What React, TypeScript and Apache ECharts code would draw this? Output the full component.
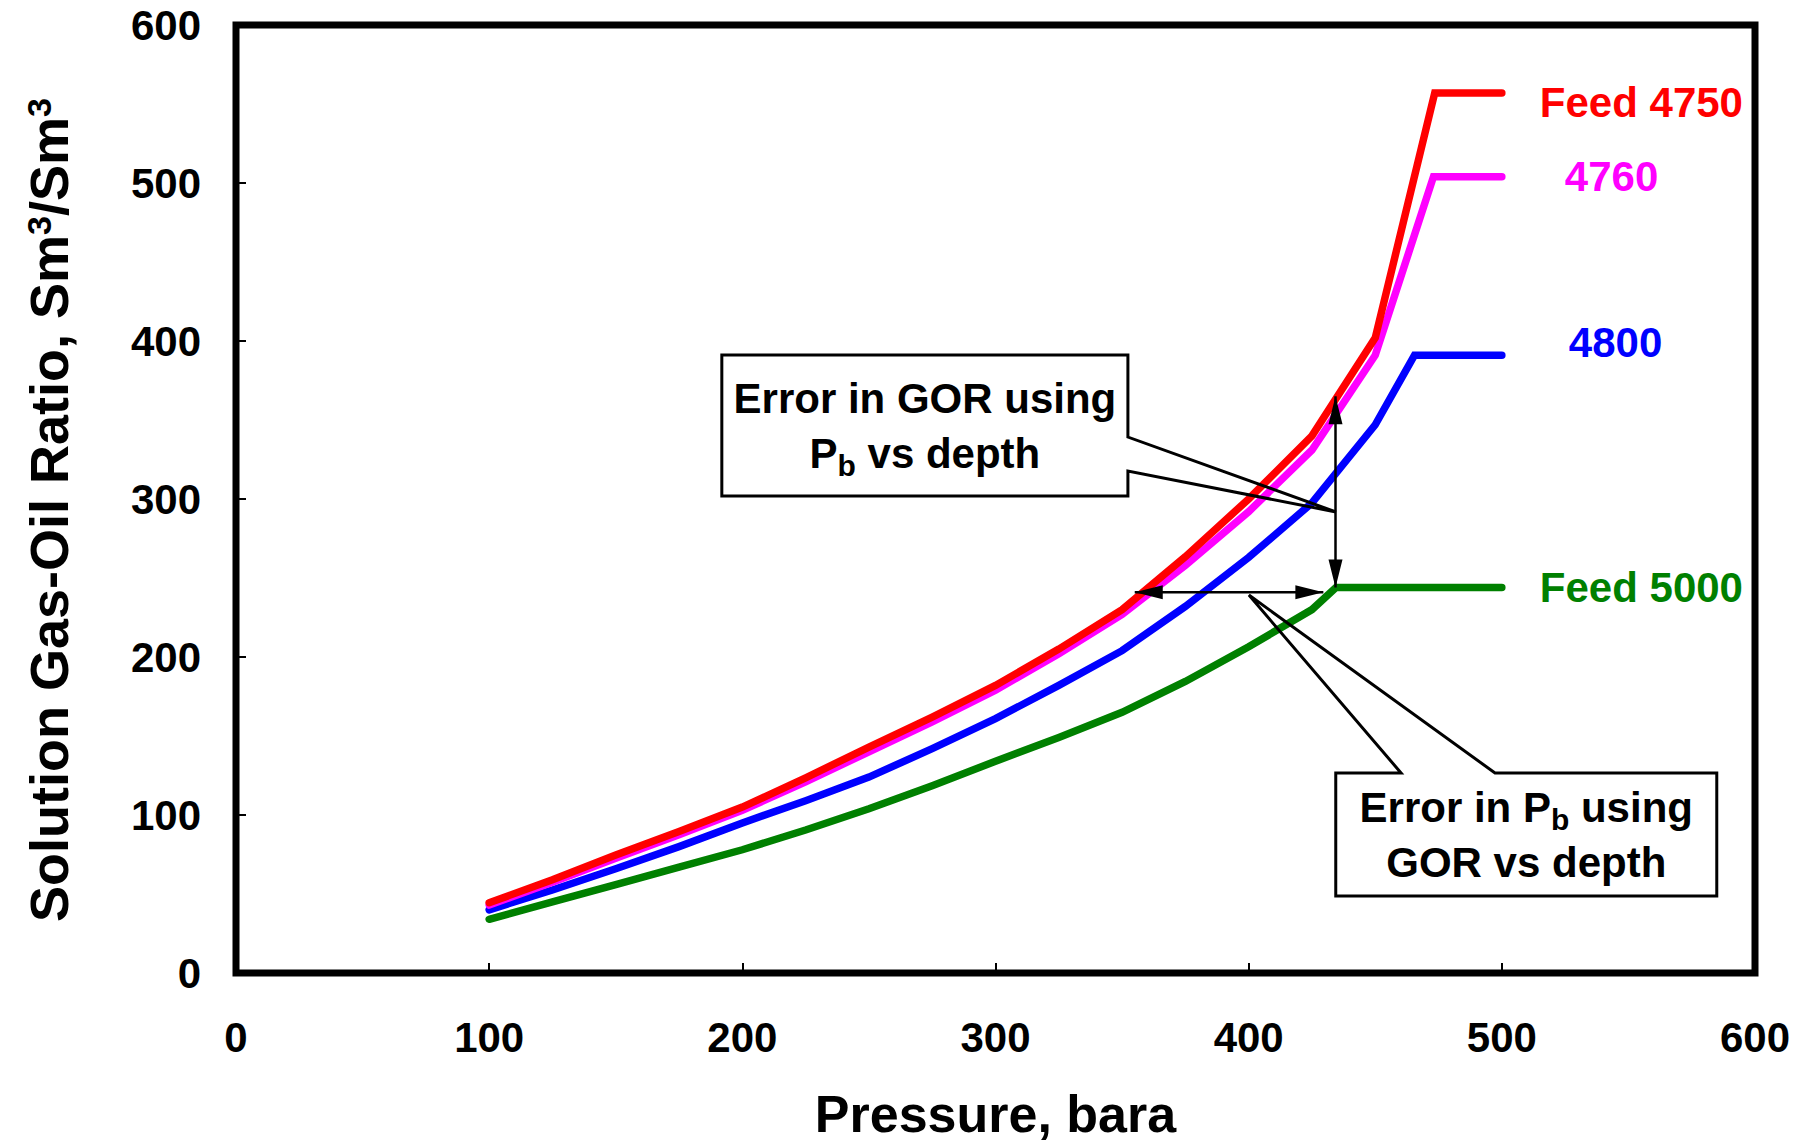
import React, { useEffect, useRef } from "react";
import * as echarts from "echarts";

const FONT = '"Liberation Sans", Arial, Helvetica, sans-serif';

// Axis ticks
const xTickMin = 0;
const xTickMax = 600;
const xTickStep = 100;
const yTickMin = 0;
const yTickMax = 600;
const yTickStep = 100;

// Pressure (bara) grid of the depletion curves
const pressureSteps = [100, 125, 150, 175, 200, 225, 250, 275, 300, 325, 350, 375, 400, 425, 450];

// Feed 4750
const feed4750Pressure = [...pressureSteps, 473.5, 500];
const feed4750Gor = [44.5, 59, 74.7, 89.5, 105, 123.5, 143, 162, 182, 205, 230, 263.5, 300, 340, 402, 557, 557];

// 4760
const feed4760Pressure = [...pressureSteps, 473, 500];
const feed4760Gor = [43, 57.5, 72.6, 87.5, 103, 121, 140, 159, 179, 202, 227, 258, 292, 331, 391, 504, 504];

// 4800
const feed4800Pressure = [...pressureSteps, 465.5, 500];
const feed4800Gor = [40, 52.5, 66, 80, 95, 109, 124, 142, 161, 182, 204, 232, 263, 297.5, 347, 391, 391];

// Feed 5000
const feed5000Pressure = [100, 125, 150, 175, 200, 225, 250, 275, 300, 325, 350, 375, 400, 425, 434.5, 500];
const feed5000Gor = [34, 45, 56, 67, 78, 90.5, 104, 118.5, 134, 149, 165, 184.5, 206.5, 230, 244, 244];

const seriesNames = ["Feed 4750", "4760", "4800", "Feed 5000"];
const seriesColors = ["#FF0000", "#FF00FF", "#0000FF", "#008000"];
const seriesPressure = [feed4750Pressure, feed4760Pressure, feed4800Pressure, feed5000Pressure];
const seriesGor = [feed4750Gor, feed4760Gor, feed4800Gor, feed5000Gor];

// Annotation arrows (data coordinates: pressure, GOR)
const gorErrorArrow = [
  [434.3, 244],
  [434.3, 365],
];
const pbErrorArrow = [
  [355, 241],
  [429.5, 241],
];

// Callout texts
const calloutTexts = ["Error in GOR using\nP{s|b} vs depth", "Error in P{s|b} using\nGOR vs depth"];

// ---- layout (not data) ----
const labelOffsets = [
  [38, 10],
  [63, 0],
  [67, -13],
  [38, 0],
];
// callout geometry in axis units: box [x1, yTop, x2, yBottom]
const calloutLayout = [
  { box: [191.9, 391.1, 352.3, 301.9], side: "right", wedge: [339.2, 317.7], tip: [434.5, 291.8] },
  { box: [434.4, 126.6, 584.9, 48.7], side: "top", wedge: [460.2, 497.3], tip: [400.1, 239.2] },
];

function buildOption() {
  const lineOrder = [3, 2, 1, 0];
  const lineSeries = lineOrder.map((i) => ({
    type: "line",
    name: seriesNames[i],
    data: seriesPressure[i].map((p, k) => [p, seriesGor[i][k]]),
    showSymbol: false,
    symbol: "none",
    smooth: false,
    silent: true,
    z: 2,
    lineStyle: { width: 7.5, color: seriesColors[i], cap: "round", join: "miter" },
  }));

  const annotationSeries = {
    type: "custom",
    coordinateSystem: "cartesian2d",
    data: [[0, 0]],
    silent: true,
    clip: false,
    z: 5,
    renderItem: (params: any, api: any) => {
      const children: any[] = [];
      const c = (p: number[]) => api.coord(p);

      const arrowHead = (tip: number[], from: number[]) => {
        const dx = tip[0] - from[0];
        const dy = tip[1] - from[1];
        const len = Math.sqrt(dx * dx + dy * dy) || 1;
        const ux = dx / len;
        const uy = dy / len;
        const L = 28;
        const W = 7;
        const bx = tip[0] - ux * L;
        const by = tip[1] - uy * L;
        return {
          type: "polygon",
          shape: {
            points: [
              [tip[0], tip[1]],
              [bx - uy * W, by + ux * W],
              [bx + uy * W, by - ux * W],
            ],
          },
          style: { fill: "#000", stroke: "none" },
        };
      };
      const doubleArrow = (pts: number[][]) => {
        const a = c(pts[0]);
        const b = c(pts[1]);
        children.push({
          type: "line",
          shape: { x1: a[0], y1: a[1], x2: b[0], y2: b[1] },
          style: { stroke: "#000", lineWidth: 2.5, fill: "none" },
        });
        children.push(arrowHead(a, b));
        children.push(arrowHead(b, a));
      };
      doubleArrow(gorErrorArrow);
      doubleArrow(pbErrorArrow);

      calloutLayout.forEach((cl, idx) => {
        const tl = c([cl.box[0], cl.box[1]]);
        const br = c([cl.box[2], cl.box[3]]);
        const tip = c(cl.tip);
        let pts: number[][];
        if (cl.side === "right") {
          const w1 = c([cl.box[2], cl.wedge[0]]);
          const w2 = c([cl.box[2], cl.wedge[1]]);
          pts = [
            [tl[0], tl[1]],
            [br[0], tl[1]],
            [br[0], w1[1]],
            tip,
            [br[0], w2[1]],
            [br[0], br[1]],
            [tl[0], br[1]],
          ];
        } else {
          const w1 = c([cl.wedge[0], cl.box[1]]);
          const w2 = c([cl.wedge[1], cl.box[1]]);
          pts = [
            [tl[0], tl[1]],
            [w1[0], tl[1]],
            tip,
            [w2[0], tl[1]],
            [br[0], tl[1]],
            [br[0], br[1]],
            [tl[0], br[1]],
          ];
        }
        children.push({
          type: "polygon",
          shape: { points: pts },
          style: { fill: "none", stroke: "#000", lineWidth: 3, lineJoin: "miter" },
        });
        children.push({
          type: "text",
          x: (tl[0] + br[0]) / 2,
          y: (tl[1] + br[1]) / 2,
          style: {
            text: calloutTexts[idx],
            align: "center",
            verticalAlign: "middle",
            fontFamily: FONT,
            fontSize: 42,
            fontWeight: "bold",
            lineHeight: 55,
            fill: "#000",
            rich: {
              s: {
                fontFamily: FONT,
                fontSize: 30,
                fontWeight: "bold",
                verticalAlign: "bottom",
                fill: "#000",
              },
            },
          },
        });
      });

      // series end labels
      seriesNames.forEach((name, i) => {
        const n = seriesPressure[i].length - 1;
        const end = c([seriesPressure[i][n], seriesGor[i][n]]);
        children.push({
          type: "text",
          x: end[0] + labelOffsets[i][0],
          y: end[1] + labelOffsets[i][1],
          style: {
            text: name,
            align: "left",
            verticalAlign: "middle",
            fontFamily: FONT,
            fontSize: 42,
            fontWeight: "bold",
            fill: seriesColors[i],
          },
        });
      });

      return { type: "group", children };
    },
  };

  const axisLabelStyle = {
    fontFamily: FONT,
    fontSize: 42,
    fontWeight: "bold",
    color: "#000",
  };

  return {
    animation: false,
    backgroundColor: "#ffffff",
    grid: {
      left: 236,
      right: 50,
      top: 25,
      bottom: 172,
      show: true,
      borderColor: "#000",
      borderWidth: 7,
      backgroundColor: "transparent",
      containLabel: false,
    },
    xAxis: {
      type: "value",
      min: xTickMin,
      max: xTickMax,
      interval: xTickStep,
      name: "Pressure, bara",
      nameLocation: "middle",
      nameGap: 115,
      nameTextStyle: { fontFamily: FONT, fontSize: 52, fontWeight: "bold", color: "#000" },
      axisLine: { show: false },
      axisTick: { show: true, inside: true, length: 10, lineStyle: { color: "#000", width: 2 } },
      axisLabel: { ...axisLabelStyle, margin: 43 },
      splitLine: { show: false },
    },
    yAxis: {
      type: "value",
      min: yTickMin,
      max: yTickMax,
      interval: yTickStep,
      name: "Solution Gas-Oil Ratio, Sm{sup|3}/Sm{sup|3}",
      nameLocation: "middle",
      nameRotate: 90,
      nameGap: 160,
      nameTextStyle: {
        fontFamily: FONT,
        fontSize: 54,
        fontWeight: "bold",
        color: "#000",
        padding: [0, 22, 0, 0],
        rich: {
          sup: {
            fontFamily: FONT,
            fontSize: 34,
            fontWeight: "bold",
            color: "#000",
            verticalAlign: "top",
          },
        },
      },
      axisLine: { show: false },
      axisTick: { show: true, inside: true, length: 10, lineStyle: { color: "#000", width: 2 } },
      axisLabel: { ...axisLabelStyle, margin: 35 },
      splitLine: { show: false },
    },
    series: [...lineSeries, annotationSeries],
  };
}

export default function App() {
  const ref = useRef<HTMLDivElement>(null);
  useEffect(() => {
    if (!ref.current) return;
    const chart = echarts.init(ref.current, null, { renderer: "svg" });
    chart.setOption(buildOption() as any);
    return () => {
      chart.dispose();
    };
  }, []);
  return (
    <div
      ref={ref}
      style={{ position: "fixed", left: 0, top: 0, width: 1805, height: 1145, background: "#fff" }}
    />
  );
}
